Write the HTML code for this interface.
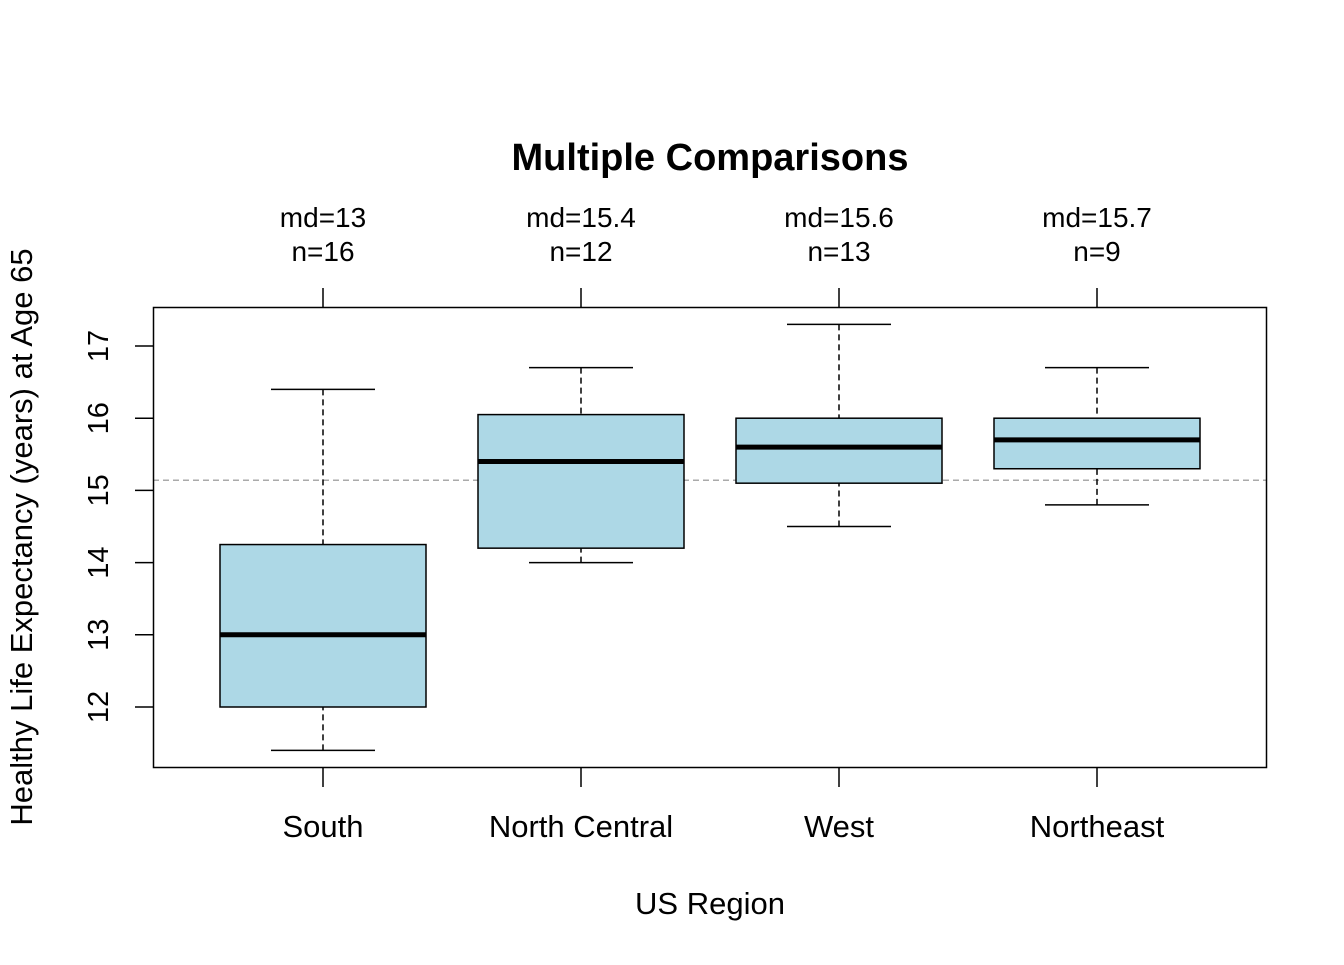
<!DOCTYPE html>
<html><head><meta charset="utf-8"><style>
body{margin:0;background:#fff;}
svg text{font-family:"Liberation Sans",Arial,sans-serif;fill:#000;}
</style></head><body>
<svg id="chart" width="1344" height="960" xmlns="http://www.w3.org/2000/svg">
<rect width="1344" height="960" fill="#fff"/>
<text x="710" y="170" style="font-size:38px;font-weight:bold" text-anchor="middle">Multiple Comparisons</text>
<text x="710" y="914" style="font-size:31px" text-anchor="middle">US Region</text>
<text transform="translate(32,537) rotate(-90)" style="font-size:31px" text-anchor="middle">Healthy Life Expectancy (years) at Age 65</text>
<g id="g"></g>
<rect x="153.5" y="307.5" width="1113" height="460" fill="none" stroke="#000" stroke-width="1.5"/>
</svg>
<script>
const categories=["South","North Central","West","Northeast"];
const lows=[11.4,14.0,14.5,14.8];
const q1s=[12.0,14.2,15.1,15.3];
const medians=[13.0,15.4,15.6,15.7];
const q3s=[14.25,16.05,16.0,16.0];
const highs=[16.4,16.7,17.3,16.7];
const counts=[16,12,13,9];
const mdLabels=["13","15.4","15.6","15.7"];
const yTicks=[12,13,14,15,16,17];
const refLine=15.14;

const ns="http://www.w3.org/2000/svg";
const g=document.getElementById('g');
const y=v=>707-(v-12)*72.2;
const x=i=>323+i*258;
function mk(t,a){const e=document.createElementNS(ns,t);for(const k in a)e.setAttribute(k,a[k]);g.appendChild(e);return e;}

yTicks.forEach(v=>{
  const l=mk('line',{x1:135,x2:153,y1:y(v),y2:y(v),stroke:'#000','stroke-width':1.5});
  
  
  const t=mk('text',{transform:`translate(108,${y(v)}) rotate(-90)`,style:'font-size:29px','text-anchor':'middle'});
  t.textContent=v;
  
  
});
const rl=mk('line',{x1:153,x2:1267,y1:y(refLine),y2:y(refLine),stroke:'#aaa','stroke-width':1.5,'stroke-dasharray':'6,4'});



categories.forEach((c,i)=>{
  const cx=x(i);
  [[768,787],[288,307]].forEach(([a,b])=>{
    const t=mk('line',{x1:cx,x2:cx,y1:a,y2:b,stroke:'#000','stroke-width':1.5});
    
    
  });
  const lab=mk('text',{x:cx,y:837,style:'font-size:31px','text-anchor':'middle'});lab.textContent=c;
  
  
  const a1=mk('text',{x:cx,y:227,style:'font-size:28px','text-anchor':'middle'});a1.textContent='md='+mdLabels[i];
  
  
  const a2=mk('text',{x:cx,y:261,style:'font-size:28px','text-anchor':'middle'});a2.textContent='n='+counts[i];
  
  
  const w1=mk('line',{x1:cx,x2:cx,y1:y(lows[i]),y2:y(q1s[i]),stroke:'#000','stroke-width':1.5,'stroke-dasharray':'6,4'});
  
  
  const w2=mk('line',{x1:cx,x2:cx,y1:y(highs[i]),y2:y(q3s[i]),stroke:'#000','stroke-width':1.5,'stroke-dasharray':'6,4'});
  
  
  [lows[i],highs[i]].forEach(v=>{
    const cp=mk('line',{x1:cx-52,x2:cx+52,y1:y(v),y2:y(v),stroke:'#000','stroke-width':1.5});
    
    
  });
  const b=mk('rect',{x:cx-103,y:y(q3s[i]),width:206,height:y(q1s[i])-y(q3s[i]),fill:'#add8e6',stroke:'#000','stroke-width':1.5});
  
  
  const m=mk('line',{x1:cx-103,x2:cx+103,y1:y(medians[i]),y2:y(medians[i]),stroke:'#000','stroke-width':5});
  
  
});
</script>
</body></html>
